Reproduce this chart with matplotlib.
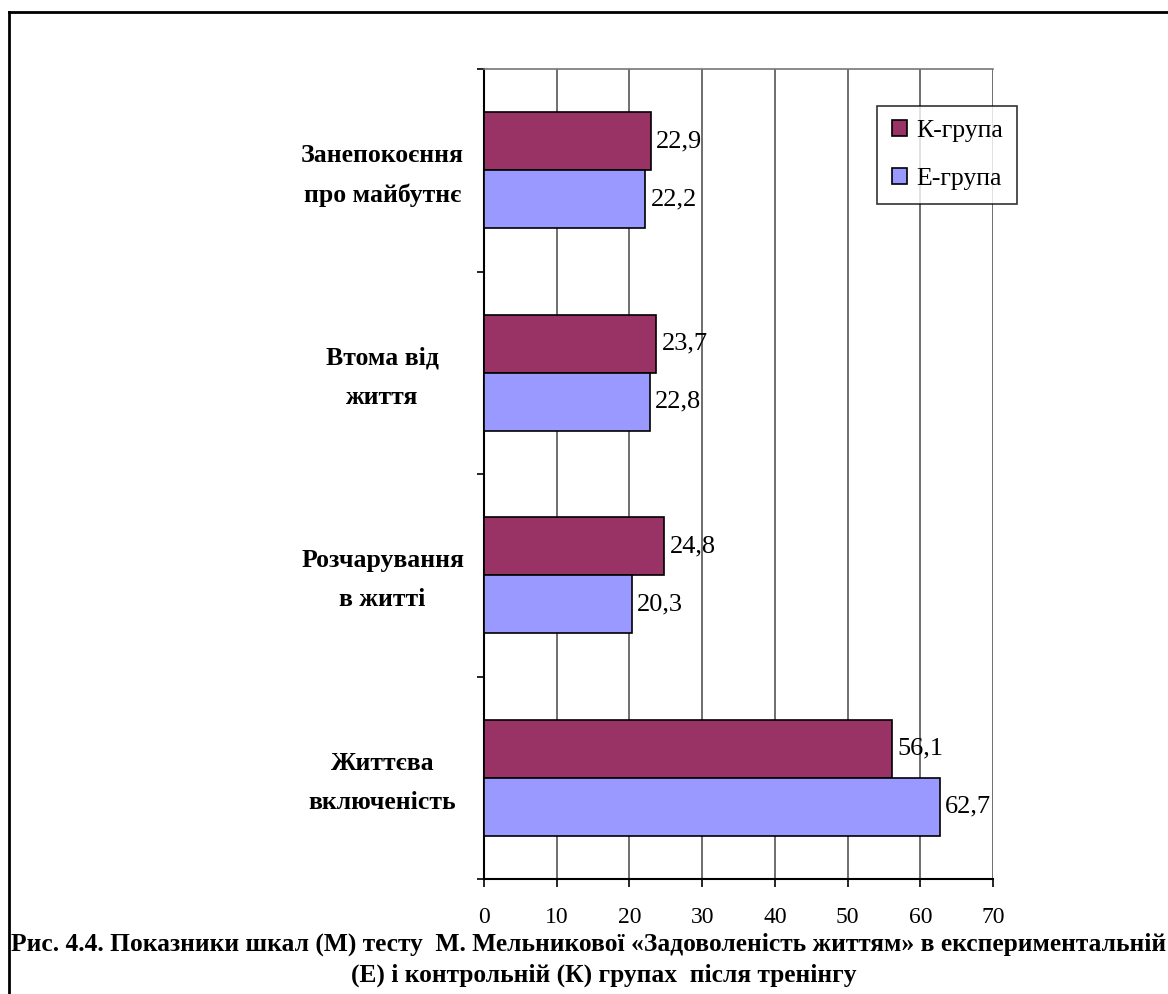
import numpy as np
import matplotlib.pyplot as plt
from matplotlib.lines import Line2D

plt.rcParams['font.family'] = ['Liberation Serif', 'DejaVu Serif']

# шкали, знизу вгору
categories = ['Життєва\nвключеність', 'Розчарування\nв житті',
              'Втома від\nжиття', 'Занепокоєння\nпро майбутнє']
k_group = [56.1, 24.8, 23.7, 22.9]
e_group = [62.7, 20.3, 22.8, 22.2]
x_ticks = [0, 10, 20, 30, 40, 50, 60, 70]

K_COLOR = '#993366'
E_COLOR = '#9999FF'

fig = plt.figure(figsize=(11.68, 9.94), dpi=100)
ax = fig.add_axes([484 / 1168, 1 - 879 / 994, 509 / 1168, 810 / 994])

y = np.arange(len(categories))
h = 0.286
ax.barh(y + h / 2, k_group, height=h, color=K_COLOR, edgecolor='black',
        linewidth=1.2, label='К-група', zorder=3)
ax.barh(y - h / 2, e_group, height=h, color=E_COLOR, edgecolor='black',
        linewidth=1.2, label='Е-група', zorder=3)

for i in range(len(categories)):
    ax.text(k_group[i] + 0.7, y[i] + h / 2, f'{k_group[i]:.1f}'.replace('.', ','),
            va='center', ha='left', fontsize=19, zorder=4)
    ax.text(e_group[i] + 0.7, y[i] - h / 2, f'{e_group[i]:.1f}'.replace('.', ','),
            va='center', ha='left', fontsize=19, zorder=4)

ax.set_xlim(0, 70)
ax.set_ylim(-0.5, len(categories) - 0.5)
ax.set_xticks(x_ticks)
ax.set_xticklabels([str(t) for t in x_ticks], fontsize=17)
ax.tick_params(axis='x', direction='out', length=6, width=1.2, pad=14)
ax.grid(axis='x', color='#555555', linewidth=1.2, zorder=0)

# межі категорій - засічки, підписи - трохи нижче середини
ax.set_yticks(np.arange(len(categories) + 1) - 0.5)
ax.set_yticklabels([])
ax.tick_params(axis='y', direction='out', length=5, width=1.2)
ax.set_yticks(y - 0.025, minor=True)
ax.set_yticklabels(categories, minor=True, fontsize=18.5, fontweight='bold',
                   ha='center', va='center', linespacing=1.9)
ax.tick_params(axis='y', which='minor', length=0, pad=73)

ax.spines['top'].set_color('#777777')
ax.spines['top'].set_linewidth(1.2)
ax.spines['right'].set_visible(False)
ax.spines['left'].set_linewidth(1.5)
ax.spines['bottom'].set_linewidth(1.5)

leg = ax.legend(loc='upper right',
                bbox_to_anchor=(1017 / 1168, 1 - 106 / 994), bbox_transform=fig.transFigure,
                fontsize=18.5, frameon=True, fancybox=False, edgecolor='black',
                handlelength=0.6, handleheight=0.6, handletextpad=0.35,
                labelspacing=1.0, borderpad=0.55, borderaxespad=0)
leg.get_frame().set_linewidth(1.2)

# рамка навколо рисунка
fig.add_artist(Line2D([8.5 / 1168, 8.5 / 1168], [0, 1 - 11.5 / 994],
                      transform=fig.transFigure, color='black', linewidth=2))
fig.add_artist(Line2D([8.5 / 1168, 1], [1 - 11.5 / 994, 1 - 11.5 / 994],
                      transform=fig.transFigure, color='black', linewidth=2))

fig.text(589 / 1168, 1 - 944 / 994,
         'Рис. 4.4. Показники шкал (М) тесту  М. Мельникової «Задоволеність життям» в експериментальній',
         ha='center', va='center', fontsize=18.4, fontweight='bold')
fig.text(604 / 1168, 1 - 975 / 994,
         '(Е) і контрольній (К) групах  після тренінгу',
         ha='center', va='center', fontsize=18.4, fontweight='bold')

fig.savefig('out.png', dpi=100)
